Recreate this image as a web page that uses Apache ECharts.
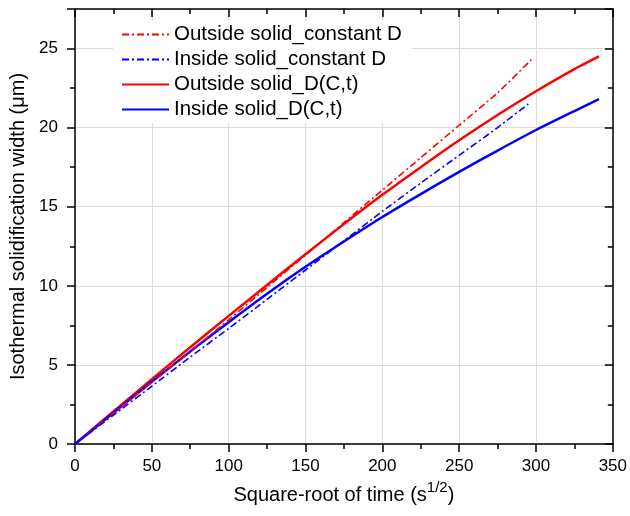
<!DOCTYPE html>
<html><head><meta charset="utf-8">
<script src="https://cdn.jsdelivr.net/npm/echarts@6/dist/echarts.min.js"></script>
<style>html,body{margin:0;padding:0;background:#fff}#c{width:630px;height:516px}</style>
</head><body><div id="c"></div>
<script>
const seriesNames = ['Outside solid_constant D','Inside solid_constant D','Outside solid_D(C,t)','Inside solid_D(C,t)'];
const xConst = [0,25,50,75,100,125,150,175,200,225,250,275,297];
const outsideConst = [0,1.95,3.9,5.85,7.85,9.9,11.95,14.0,16.05,18.1,20.15,22.2,24.3];
const xConstIn = [0,25,50,75,100,125,150,175,200,225,250,275,295];
const insideConst = [0,1.83,3.65,5.5,7.3,9.15,11.0,12.85,14.7,16.5,18.25,20.0,21.5];
const xVar = [0,25,50,75,100,125,150,175,200,225,250,275,300,325,341];
const outsideVar = [0,2.05,4.1,6.12,8.1,10.05,12.0,13.9,15.75,17.5,19.2,20.8,22.3,23.7,24.5];
const insideVar = [0,1.97,3.93,5.85,7.7,9.5,11.2,12.8,14.35,15.8,17.2,18.55,19.85,21.05,21.8];
const xTicks = {min:0,max:350,interval:50};
const yTicks = {min:0,max:27.5,interval:5};

const pair = (xs, ys) => xs.map((x,i)=>[x, ys[i]]);
const font = 'Arial, "Liberation Sans", sans-serif';
const chart = echarts.init(document.getElementById('c'));
const axisLineStyle = {color:'#000', width:1.5};
const tickStyle = {color:'#000', width:1.5};
chart.setOption({
  animation:false,
  backgroundColor:'#fff',
  grid:{left:75,right:15,top:9,bottom:72,containLabel:false},
  legend:{
    orient:'vertical', left:113, top:21, itemWidth:47, itemHeight:6, itemGap:4,
    backgroundColor:'#fff', padding:[3,10,3,8],
    itemStyle:{opacity:0},
    textStyle:{fontFamily:font,fontSize:20.5,color:'#000'},
    data:seriesNames
  },
  xAxis:[{
    type:'value', min:xTicks.min, max:xTicks.max, interval:xTicks.interval,
    name:'Square-root of time (s{sup|1/2})', nameLocation:'middle', nameGap:36,
    nameTextStyle:{fontFamily:font,fontSize:20,color:'#000',
      rich:{sup:{fontFamily:font,fontSize:15,color:'#000',verticalAlign:'top',padding:[0,0,16,0]}}},
    axisLine:{show:true,onZero:false,lineStyle:axisLineStyle},
    axisTick:{show:true,inside:false,length:8,lineStyle:tickStyle},
    minorTick:{show:true,splitNumber:2,length:5,lineStyle:tickStyle},
    axisLabel:{fontFamily:font,fontSize:17,color:'#000',margin:14},
    splitLine:{show:true,lineStyle:{color:'#dcdcdc',width:1}}
  },{
    type:'value', position:'top', min:xTicks.min, max:xTicks.max, interval:xTicks.interval,
    axisLine:{show:true,onZero:false,lineStyle:axisLineStyle},
    axisTick:{show:true,inside:true,length:8,lineStyle:tickStyle},
    minorTick:{show:true,splitNumber:2,length:5,lineStyle:tickStyle},
    axisLabel:{show:false}, splitLine:{show:false}
  }],
  yAxis:[{
    type:'value', min:yTicks.min, max:yTicks.max, interval:yTicks.interval,
    name:'Isothermal solidification width (\u03bcm)', nameLocation:'middle', nameGap:43,
    nameTextStyle:{fontFamily:font,fontSize:20,color:'#000'},
    axisLine:{show:true,onZero:false,lineStyle:axisLineStyle},
    axisTick:{show:true,inside:false,length:8,lineStyle:tickStyle},
    minorTick:{show:true,splitNumber:2,length:5,lineStyle:tickStyle},
    axisLabel:{fontFamily:font,fontSize:17,color:'#000',margin:17,
      formatter:v=> (v%5===0 ? String(v) : '')},
    splitLine:{show:true,lineStyle:{color:'#dcdcdc',width:1}}
  },{
    type:'value', position:'right', min:yTicks.min, max:yTicks.max, interval:yTicks.interval,
    axisLine:{show:true,onZero:false,lineStyle:axisLineStyle},
    axisTick:{show:true,inside:true,length:8,lineStyle:tickStyle},
    minorTick:{show:true,splitNumber:2,length:5,lineStyle:tickStyle},
    axisLabel:{show:false}, splitLine:{show:false}
  }],
  series:[
    {name:seriesNames[0],type:'line',showSymbol:false,symbol:'none',smooth:0.2,data:pair(xConst,outsideConst),
     lineStyle:{color:'#ff0000',width:1.6,type:[7,3,2,3]},itemStyle:{color:'#ff0000'},z:3},
    {name:seriesNames[1],type:'line',showSymbol:false,symbol:'none',smooth:0.2,data:pair(xConstIn,insideConst),
     lineStyle:{color:'#0000ff',width:1.6,type:[7,3,2,3]},itemStyle:{color:'#0000ff'},z:3},
    {name:seriesNames[2],type:'line',showSymbol:false,symbol:'none',smooth:0.2,data:pair(xVar,outsideVar),
     lineStyle:{color:'#ff0000',width:2.5},itemStyle:{color:'#ff0000'},z:2},
    {name:seriesNames[3],type:'line',showSymbol:false,symbol:'none',smooth:0.2,data:pair(xVar,insideVar),
     lineStyle:{color:'#0000ff',width:2.5},itemStyle:{color:'#0000ff'},z:2}
  ]
});
</script></body></html>
